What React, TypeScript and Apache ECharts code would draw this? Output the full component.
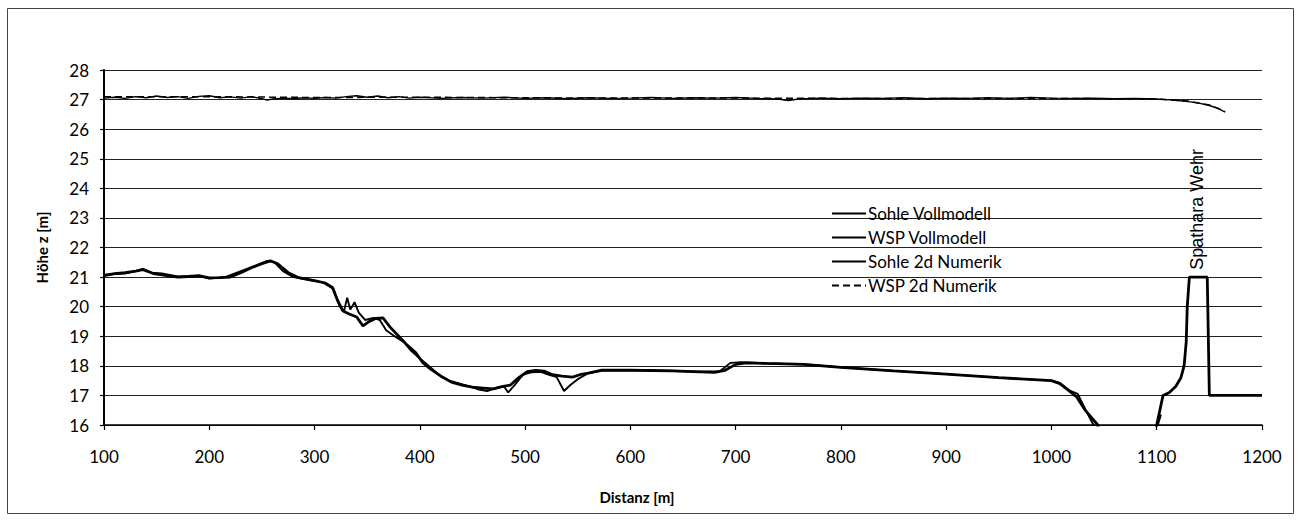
import React, { useEffect, useRef } from "react";
import * as echarts from "echarts";

// Distanz [m] / Höhe z [m] pairs
const sohleVollmodell: [number, number][] = [
  [100, 21.05], [110, 21.12], [120, 21.15], [130, 21.2], [137, 21.25], [147, 21.12], [160, 21.05],
  [170, 21.0], [180, 21.02], [190, 21.05], [200, 20.97], [210, 20.98], [220, 21.0], [230, 21.15],
  [240, 21.32], [250, 21.45], [258, 21.55], [265, 21.45], [275, 21.15], [285, 20.98], [300, 20.88],
  [310, 20.8], [317, 20.65], [322, 20.2], [327, 19.85], [333, 19.75], [340, 19.65], [346, 19.35],
  [352, 19.5], [358, 19.6], [365, 19.62], [372, 19.3], [380, 19.0], [388, 18.7], [396, 18.45],
  [403, 18.1], [410, 17.9], [420, 17.65], [430, 17.45], [440, 17.35], [450, 17.28], [460, 17.25],
  [470, 17.22], [478, 17.3], [486, 17.35], [494, 17.6], [502, 17.8], [510, 17.85], [518, 17.82],
  [526, 17.7], [535, 17.65], [545, 17.62], [552, 17.7], [560, 17.75], [572, 17.85], [600, 17.85],
  [640, 17.83], [680, 17.78], [690, 17.85], [700, 18.05], [710, 18.1], [730, 18.08], [765, 18.05],
  [800, 17.95], [850, 17.83], [900, 17.72], [950, 17.6], [1000, 17.5], [1008, 17.4], [1015, 17.2],
  [1024, 16.95], [1032, 16.5], [1044, 16.0], [1046, 15.6], [1098, 15.6], [1100, 16.0], [1106, 17.0],
  [1112, 17.1], [1118, 17.3], [1123, 17.6], [1126, 18.0], [1128, 18.8], [1129, 20.0], [1131, 21.0],
  [1148, 21.0], [1150, 17.0], [1200, 17.0],
];

const wspVollmodell: [number, number][] = [
  [100, 27.05], [110, 27.08], [120, 27.04], [130, 27.1], [140, 27.06], [150, 27.12], [160, 27.07],
  [170, 27.1], [180, 27.04], [190, 27.11], [200, 27.13], [210, 27.06], [220, 27.09], [230, 27.05],
  [240, 27.1], [250, 27.03], [255, 26.98], [260, 27.02], [270, 27.05], [280, 27.03], [290, 27.06],
  [300, 27.04], [310, 27.07], [320, 27.05], [330, 27.1], [340, 27.13], [350, 27.08], [360, 27.12],
  [370, 27.06], [380, 27.1], [390, 27.05], [400, 27.08], [420, 27.04], [440, 27.07], [460, 27.05],
  [480, 27.08], [500, 27.04], [520, 27.06], [540, 27.03], [560, 27.06], [580, 27.04], [600, 27.05],
  [620, 27.07], [640, 27.04], [660, 27.06], [680, 27.05], [700, 27.07], [720, 27.04], [740, 27.02],
  [750, 26.97], [760, 27.02], [780, 27.05], [800, 27.03], [820, 27.05], [840, 27.04], [860, 27.06],
  [880, 27.03], [900, 27.05], [920, 27.04], [940, 27.06], [960, 27.04], [980, 27.07], [1000, 27.05],
  [1020, 27.04], [1040, 27.05], [1060, 27.03], [1080, 27.04], [1100, 27.02], [1110, 27.0],
  [1120, 26.97], [1130, 26.93], [1140, 26.88], [1150, 26.8], [1158, 26.7], [1165, 26.58],
];

const sohle2dNumerik: [number, number][] = [
  [100, 21.08], [110, 21.1], [120, 21.12], [130, 21.2], [137, 21.28], [145, 21.15], [155, 21.12],
  [170, 21.02], [190, 21.03], [200, 20.95], [215, 21.0], [230, 21.2], [245, 21.4], [255, 21.55],
  [262, 21.5], [270, 21.2], [280, 21.0], [295, 20.9], [308, 20.82], [318, 20.6], [324, 20.0],
  [328, 19.85], [331, 20.3], [334, 19.9], [338, 20.15], [342, 19.8], [348, 19.55], [356, 19.62],
  [362, 19.55], [368, 19.2], [376, 19.0], [385, 18.8], [392, 18.5], [400, 18.25], [410, 17.95],
  [418, 17.7], [428, 17.5], [438, 17.4], [448, 17.3], [456, 17.2], [464, 17.15], [472, 17.25],
  [480, 17.3], [484, 17.1], [490, 17.35], [498, 17.7], [506, 17.78], [515, 17.8], [522, 17.7],
  [530, 17.62], [537, 17.15], [543, 17.35], [550, 17.55], [560, 17.75], [575, 17.85], [620, 17.85],
  [665, 17.8], [685, 17.82], [695, 18.1], [705, 18.12], [730, 18.08], [765, 18.05], [800, 17.95],
  [850, 17.83], [900, 17.72], [950, 17.6], [1000, 17.5], [1008, 17.42], [1018, 17.15], [1025, 17.05],
  [1034, 16.4], [1040, 16.0], [1042, 15.6], [1099, 15.6], [1101, 16.0], [1104, 16.35],
];

const wsp2dNumerik: [number, number][] = [
  [100, 27.1], [150, 27.1], [200, 27.1], [300, 27.07], [400, 27.08], [500, 27.06], [600, 27.05],
  [700, 27.05], [800, 27.04], [900, 27.04], [1000, 27.04], [1100, 27.02], [1130, 26.95],
  [1150, 26.82], [1165, 26.6],
];

const seriesNames = ["Sohle Vollmodell", "WSP Vollmodell", "Sohle 2d Numerik", "WSP 2d Numerik"];
const xRange = { min: 100, max: 1200, step: 100 };
const yRange = { min: 16, max: 28, step: 1 };
const weirLabel = { text: "Spathara Wehr", x: 1138, y: 21.25 };

export default function App() {
  const ref = useRef<HTMLDivElement>(null);

  useEffect(() => {
    document.body.style.margin = "0";
    if (!ref.current) return;
    const chart = echarts.init(ref.current, undefined, { renderer: "svg" });
    const font = "Lato, 'Noto Sans', sans-serif";
    chart.setOption({
      animation: false,
      backgroundColor: "#ffffff",
      textStyle: { fontFamily: font, color: "#000" },
      grid: { left: 104, right: 38, top: 70, bottom: 97, containLabel: false },
      legend: {
        data: seriesNames,
        orient: "vertical",
        left: 826,
        top: 200,
        itemWidth: 34,
        itemHeight: 14,
        itemGap: 7,
        itemStyle: { opacity: 0 },
        textStyle: { fontFamily: font, fontSize: 17, color: "#000", padding: [0, 0, 0, -3] },
      },
      xAxis: {
        type: "value",
        min: xRange.min,
        max: xRange.max,
        interval: xRange.step,
        axisLine: { show: true, lineStyle: { color: "#000", width: 1.5 } },
        axisTick: { show: true, inside: false, length: 5, lineStyle: { color: "#000", width: 1.2 } },
        axisLabel: {
          color: "#000", fontFamily: font, fontSize: 17, margin: 23,
          formatter: (v: number) => String(v),
        },
        splitLine: { show: false },
      },
      yAxis: {
        type: "value",
        min: yRange.min,
        max: yRange.max,
        interval: yRange.step,
        name: "Höhe z [m]",
        nameLocation: "middle",
        nameRotate: 90,
        nameGap: 55,
        nameTextStyle: { fontFamily: font, fontSize: 15, fontWeight: "bold", color: "#000" },
        axisLine: { show: true, lineStyle: { color: "#000", width: 2 } },
        axisTick: { show: true, inside: false, length: 4, lineStyle: { color: "#000", width: 1.2 } },
        axisLabel: { color: "#000", fontFamily: font, fontSize: 17, margin: 15 },
        splitLine: { show: true, lineStyle: { color: "#222", width: 1 } },
      },
      series: [
        {
          name: seriesNames[0], type: "line", data: sohleVollmodell, symbol: "none", clip: true,
          lineStyle: { color: "#000", width: 2.8 }, itemStyle: { color: "#000" }, z: 5,
        },
        {
          name: seriesNames[1], type: "line", data: wspVollmodell, symbol: "none", clip: true,
          lineStyle: { color: "#000", width: 1.4 }, itemStyle: { color: "#000" }, z: 4,
        },
        {
          name: seriesNames[2], type: "line", data: sohle2dNumerik, symbol: "none", clip: true,
          lineStyle: { color: "#000", width: 1.9 }, itemStyle: { color: "#000" }, z: 4,
        },
        {
          name: seriesNames[3], type: "line", data: wsp2dNumerik, symbol: "none", clip: true,
          lineStyle: { color: "#000", width: 1.5, type: [7, 4] }, itemStyle: { color: "#000" }, z: 3,
        },
      ],
    });
    const p = chart.convertToPixel({ gridIndex: 0 }, [weirLabel.x, weirLabel.y]) as number[];
    chart.setOption({
      graphic: [
        {
          type: "rect",
          shape: { x: 7.5, y: 8.5, width: 1286, height: 505 },
          style: { fill: "none", stroke: "#444", lineWidth: 1 },
          silent: true,
        },
        {
          type: "text",
          x: p[0],
          y: p[1],
          rotation: Math.PI / 2,
          style: {
            text: weirLabel.text,
            font: "18px 'Liberation Sans', Arial, sans-serif",
            fill: "#000",
            textAlign: "left",
            textVerticalAlign: "middle",
          },
        },
        {
          type: "text",
          x: 637,
          y: 497,
          style: {
            text: "Distanz [m]",
            font: "bold 15px " + font,
            fill: "#000",
            textAlign: "center",
            textVerticalAlign: "middle",
          },
        },
      ],
    });
    return () => chart.dispose();
  }, []);

  return <div ref={ref} style={{ width: 1300, height: 522 }} />;
}
